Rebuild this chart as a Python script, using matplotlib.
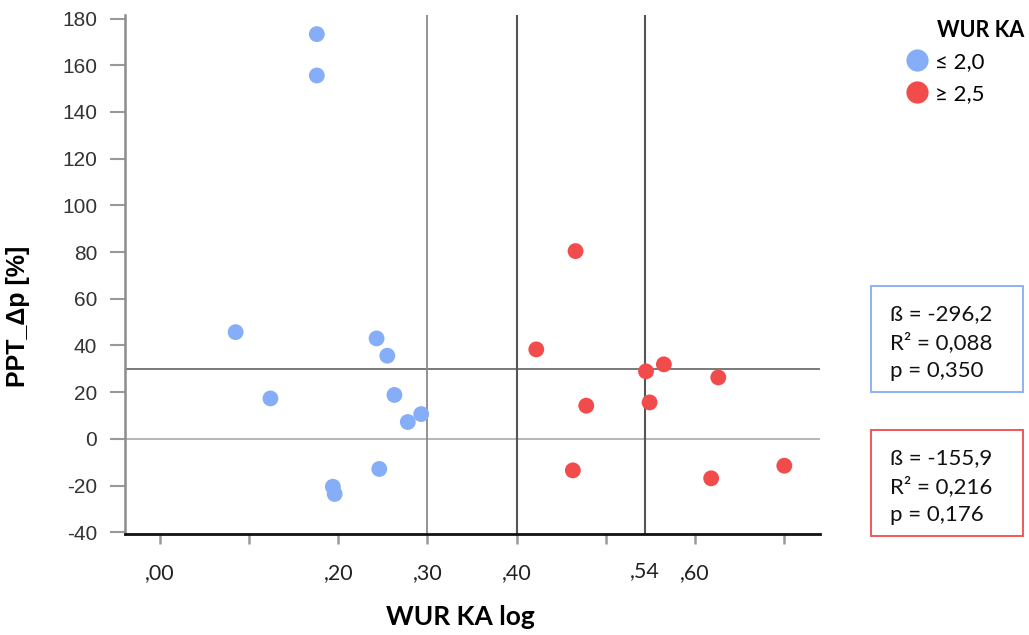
import matplotlib
matplotlib.use('Agg')
import matplotlib.pyplot as plt
from matplotlib.lines import Line2D
from matplotlib.patches import Rectangle

# WUR KA log vs. PPT change, split by WUR KA group
low_x = [0.176, 0.176, 0.085, 0.243, 0.255, 0.124, 0.263, 0.293, 0.278, 0.246, 0.194, 0.196]
low_y = [173.3, 155.6, 45.7, 43.0, 35.6, 17.3, 18.8, 10.6, 7.2, -12.9, -20.5, -23.6]

high_x = [0.466, 0.422, 0.565, 0.545, 0.626, 0.478, 0.549, 0.463, 0.618, 0.700]
high_y = [80.4, 38.3, 31.9, 28.9, 26.3, 14.2, 15.6, -13.5, -16.9, -11.5]

x_ticks = [0.0, 0.1, 0.2, 0.3, 0.4, 0.5, 0.6, 0.7]
x_labels = [',00', '', ',20', ',30', ',40', '', ',60', '']
median_x = 0.544
median_label = ',54'
y_ticks = [-40, -20, 0, 20, 40, 60, 80, 100, 120, 140, 160, 180]
y_labels = ['-40', '-20', '0', '20', '40', '60', '80', '100', '120', '140', '160', '180']
ref_lines_x = [0.3, 0.4, median_x]
ref_lines_y = [0, 30]

legend_labels = ['≤ 2,0', '≥ 2,5']
stats_low = ['ß = -296,2', 'R² = 0,088', 'p = 0,350']
stats_high = ['ß = -155,9', 'R² = 0,216', 'p = 0,176']

blue = '#86adf7'
red = '#f24b4b'

fig = plt.figure(figsize=(10.29, 6.35), dpi=100)
ax = fig.add_axes([125 / 1029, 1 - 534 / 635, 695 / 1029, 519 / 635])

ax.set_xlim(-0.039, 0.74)
ax.set_ylim(-40.75, 181.5)

# reference lines
ax.axhline(ref_lines_y[0], color='#b0b0b0', lw=1.3, zorder=1)
ax.axhline(ref_lines_y[1], color='#707070', lw=1.3, zorder=1)
ax.axvline(ref_lines_x[0], color='#8a8a8a', lw=1.3, zorder=1)
ax.axvline(ref_lines_x[1], color='#555555', lw=1.5, zorder=1)
ax.axvline(ref_lines_x[2], color='#555555', lw=1.5, zorder=1)

ax.scatter(low_x, low_y, s=130, color=blue, edgecolors='none', zorder=3)
ax.scatter(high_x, high_y, s=130, color=red, edgecolors='none', zorder=3)

for side in ['top', 'right']:
    ax.spines[side].set_visible(False)
ax.spines['left'].set_color('#8c8c8c')
ax.spines['left'].set_linewidth(1.8)
ax.spines['bottom'].set_color('#111111')
ax.spines['bottom'].set_linewidth(2)

ax.set_yticks(y_ticks)
ax.set_yticklabels(y_labels, fontfamily='Liberation Sans', fontsize=15, color='#333333')
ax.tick_params(axis='y', length=11, width=1.5, color='#999999', pad=9)

ax.set_xticks(x_ticks)
ax.set_xticklabels(x_labels, fontfamily='Lato', fontsize=15.5, color='#222222')
ax.tick_params(axis='x', length=7, width=1.8, color='#999999', pad=14)
ax.text(median_x, -(571 - 534) / 519, median_label, transform=ax.get_xaxis_transform(),
        ha='center', va='center', fontfamily='Lato', fontsize=15.5, color='#222222')

fig.text(460 / 1029, 1 - 617 / 635, 'WUR KA log', ha='center', va='center',
         fontfamily='Lato', fontweight='bold', fontsize=19)
ax.set_ylabel('PPT_Δp [%]', fontfamily='Liberation Sans', fontweight='bold', fontsize=18)
ax.yaxis.set_label_coords((30 - 125) / 695, (534 - 316) / 519)

# legend
handles = [Line2D([], [], marker='o', ls='none', markersize=16, color=blue, markeredgewidth=0),
           Line2D([], [], marker='o', ls='none', markersize=16, color=red, markeredgewidth=0)]
fig.legend(handles, legend_labels, loc='upper left', bbox_to_anchor=(0.859, 0.95),
           frameon=False, handletextpad=0.2, labelspacing=0.55, handlelength=1.2,
           prop={'family': 'Lato', 'size': 16})
fig.text(0.995, 0.952, 'WUR KA', ha='right', va='center', fontfamily='Lato',
         fontweight='bold', fontsize=15.5)

# regression boxes
for lines, col, top in [(stats_low, blue, 286), (stats_high, red, 430)]:
    fig.patches.append(Rectangle((871 / 1029, 1 - (top + 106) / 635), 152 / 1029, 106 / 635,
                                 transform=fig.transFigure, fill=False, edgecolor=col, lw=1.3))
    for i, s in enumerate(lines):
        fig.text(890 / 1029, 1 - (top + 28 + 28.5 * i) / 635, s, ha='left', va='center',
                 fontfamily='Lato', fontsize=16, color='#111111')

fig.savefig('out.png', dpi=100)
